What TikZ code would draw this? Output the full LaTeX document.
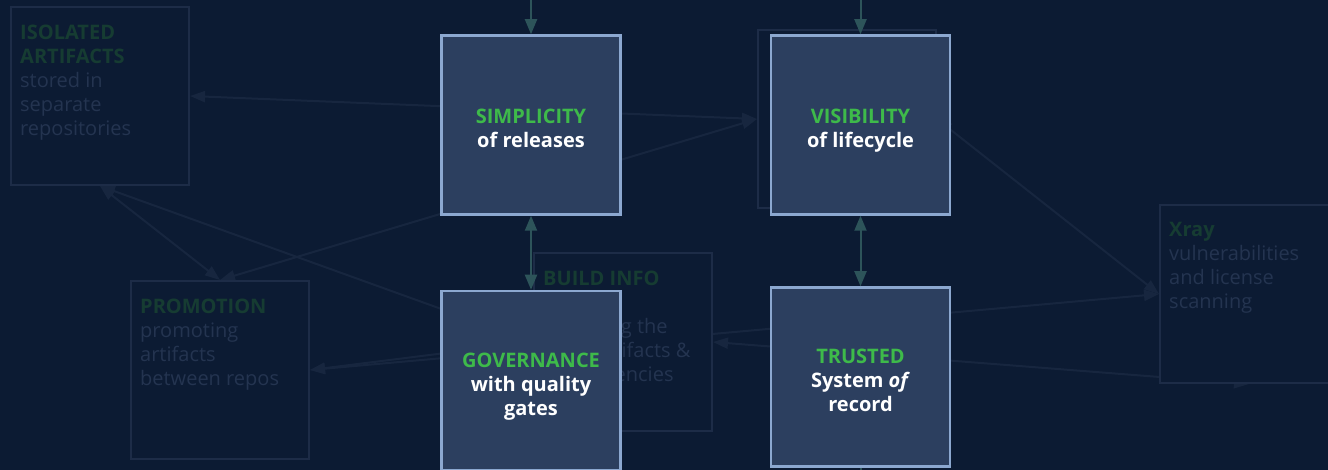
\documentclass[tikz,border=0pt]{standalone}
\usepackage{fontspec}
\setmainfont{Open Sans}
\usetikzlibrary{arrows.meta,positioning}
\definecolor{bgcol}{RGB}{12,27,51}
\definecolor{boxcol}{RGB}{44,63,95}
\definecolor{edgecol}{RGB}{140,168,208}
\definecolor{greencol}{RGB}{62,186,74}
\definecolor{tealcol}{RGB}{45,84,90}
\definecolor{fadeedge}{RGB}{29,44,71}
\definecolor{fadeline}{RGB}{23,38,63}
\definecolor{fadegreen}{RGB}{22,60,50}
\definecolor{fadegrey}{RGB}{36,52,80}
\newcommand{\headline}[1]{\rule{0pt}{26.5pt}{\color{greencol}#1}}
\newcommand{\lastline}[1]{#1\rule[-5pt]{0pt}{5pt}}
\newcommand{\fadehead}[1]{{\color{fadegreen}\bfseries #1}}
\pgfdeclarelayer{canvas}
\pgfdeclarelayer{links}
\pgfsetlayers{canvas,links,main}
\tikzset{
    mainbox/.style={
    rectangle,draw=edgecol,fill=boxcol,line width=2.5pt,minimum size=179pt,inner sep=0pt,
    align=center,text=white,font=\bfseries\fontsize{20}{24}\selectfont
    },
    fadebox/.style={
    rectangle,draw=fadeedge,fill=bgcol,line width=2pt,minimum size=178pt,inner sep=0pt
    },
    fadetext/.style={
    inner sep=0pt,align=left,text=fadegrey,font=\fontsize{20}{24}\selectfont
    },
    fadelink/.style={
    color=fadeline,line width=2pt,{Triangle[length=15pt,width=11pt]}-{Triangle[length=15pt,width=11pt]}
    },
    flow/.style={
    color=tealcol,line width=2pt,-{Triangle[length=15pt,width=12pt]}
    },
    bflow/.style={
    color=tealcol,line width=2pt,{Triangle[length=15pt,width=12pt]}-{Triangle[length=15pt,width=12pt]}
    },
}

\begin{document}
\begin{tikzpicture}[x=1pt, y=-1pt]
  \useasboundingbox (0,0) rectangle (1328,470);
  \clip (0,0) rectangle (1328,470);
  \begin{pgfonlayer}{canvas}
    \fill[bgcol] (0,0) rectangle (1328,470);
  \end{pgfonlayer}

  % faded boxes
  \node[fadebox] (iso) at (100,96) {};
  \node[fadebox] (promo) at (220,370) {};
  \node[fadebox] (build) at (623,342) {};
  \node[fadebox] (xray) at (1249,294) {};
  \node[fadebox] (repo) at (847,119) {};

  \node[fadetext, below right=18.5pt and 10pt of iso.north west] (isotext)
    {\fadehead{ISOLATED}\\\fadehead{ARTIFACTS}\\stored in\\separate\\repositories};
  \node[fadetext, below right=18.5pt and 10pt of promo.north west] (promotext)
    {\fadehead{PROMOTION}\\promoting\\artifacts\\between repos};
  \node[fadetext, below right=18.5pt and 10pt of build.north west] (buildtext)
    {\fadehead{BUILD INFO}\\[24pt]capturing the\\build artifacts \&\\dependencies};
  \node[fadetext, below right=18.5pt and 10pt of xray.north west] (xraytext)
    {\fadehead{Xray}\\vulnerabilities\\and license\\scanning};

  % faded connections, under the boxes
  \begin{pgfonlayer}{links}
  \path[fadelink]
    (repo.west) edge (iso.east)
                edge (promo.north)
    (iso.south) edge (promo.north)
                edge (build.west)
    (build.west) edge (promo.east)
    (xray.west) edge (promo.east)
                edge (repo.east)
    (build.east) edge (xray.south);
  \end{pgfonlayer}

  % main boxes
  \node[mainbox] (simp) at (531,125) {\headline{SIMPLICITY}\\\lastline{of releases}};
  \node[mainbox] (vis) at (860.5,125) {\headline{VISIBILITY}\\\lastline{of lifecycle}};
  \node[mainbox] (gov) at (531,380.5) {\headline{GOVERNANCE}\\with quality\\\lastline{gates}};
  \node[mainbox] (trust) at (860.5,377) {\headline{TRUSTED}\\System \textit{of}\\\lastline{record}};

  % flows
  \coordinate (simpin) at (531,0);
  \coordinate (visin) at (860.5,0);
  \coordinate (trustout) at (860.5,485);
  \draw[flow] (simpin) -- (simp.north);
  \draw[flow] (visin) -- (vis.north);
  \draw[flow] (trust.south) -- (trustout);
  \draw[bflow] (simp.south) -- (gov.north);
  \draw[bflow] (vis.south) -- (trust.north);
\end{tikzpicture}
\end{document}
